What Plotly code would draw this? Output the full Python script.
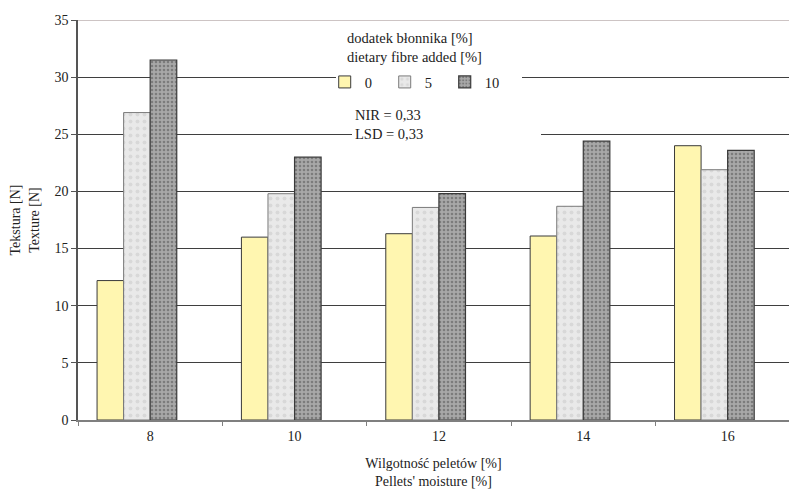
import plotly.graph_objects as go

categories = ["8", "10", "12", "14", "16"]
series_names = ["0", "5", "10"]
values_0 = [12.2, 16.0, 16.3, 16.1, 24.0]
values_5 = [26.9, 19.8, 18.6, 18.7, 21.9]
values_10 = [31.5, 23.0, 19.8, 24.4, 23.6]
y_ticks = [0, 5, 10, 15, 20, 25, 30, 35]

FONT = "Liberation Serif"
TXT = "#222222"
FS = 14
FS_NOTE = 14.5

bar_w = 0.184
styles = [
    dict(color="#fff6b0", line=dict(color="#3a3a3a", width=1)),
    dict(color="#e6e6e6", line=dict(color="#7a7a7a", width=1),
         pattern=dict(shape=".", bgcolor="#e9e9e9", fgcolor="#c8c8c8", size=7, solidity=0.25)),
    dict(color="#a0a0a0", line=dict(color="#3a3a3a", width=1.2),
         pattern=dict(shape=".", bgcolor="#a8a8a8", fgcolor="#505050", size=4, solidity=0.35)),
]
offsets = [-2 * bar_w, -bar_w, 0.0]

fig = go.Figure()
for name, vals, st, off in zip(series_names, [values_0, values_5, values_10], styles, offsets):
    fig.add_trace(go.Bar(
        x=categories, y=vals, name=name, width=bar_w, offset=off,
        marker=st,
    ))

fig.update_layout(
    width=789, height=489,
    margin=dict(l=78, r=0, t=20, b=69),
    paper_bgcolor="white", plot_bgcolor="white",
    barmode="overlay",
    font=dict(family=FONT, size=FS, color=TXT),
    showlegend=True,
    legend=dict(
        orientation="h", x=0.347, xanchor="left", y=0.845, yanchor="middle",
        bgcolor="rgba(0,0,0,0)", font=dict(family=FONT, size=FS_NOTE, color=TXT),
        entrywidth=15, itemwidth=30, traceorder="normal",
    ),
    xaxis=dict(
        type="category", range=[-0.5, 4.425],
        showgrid=False, showline=True, linecolor="#7f7f7f", linewidth=2,
        ticks="outside", tickson="boundaries", ticklen=4, tickcolor="#7f7f7f",
        ticklabelstandoff=2,
        title=dict(text="Wilgotność peletów [%]<br>Pellets' moisture [%]",
                   font=dict(family=FONT, size=FS, color=TXT), standoff=15),
        tickfont=dict(family=FONT, size=FS, color=TXT),
    ),
    yaxis=dict(
        range=[0, 35], tickvals=y_ticks, showgrid=True, gridcolor="#3f3f3f", gridwidth=1,
        zeroline=False, showline=True, linecolor="#555555", linewidth=1.5,
        ticks="outside", ticklen=5, tickcolor="#555555",
        title=dict(text="Tekstura [N]<br>Texture [N]",
                   font=dict(family=FONT, size=FS, color=TXT), standoff=12),
        tickfont=dict(family=FONT, size=FS, color=TXT),
    ),
    shapes=[
        dict(type="rect", xref="paper", yref="paper", x0=(336 - 78) / 711, x1=(522 - 78) / 711,
             y0=(420 - 95) / 400, y1=(420 - 25) / 400, fillcolor="white", line=dict(width=0), layer="above"),
        dict(type="rect", xref="paper", yref="paper", x0=(352 - 78) / 711, x1=(541 - 78) / 711,
             y0=(420 - 140) / 400, y1=(420 - 105) / 400, fillcolor="white", line=dict(width=0), layer="above"),
        dict(type="line", xref="paper", yref="y", x0=0, x1=1, y0=35, y1=35,
             line=dict(color="#9c8a8a", width=1), layer="above"),
    ],
    annotations=[
        dict(text="dodatek błonnika [%]<br>dietary fibre added [%]", xref="paper", yref="paper",
             x=(345 - 78) / 711, y=(420 - 28) / 400, xanchor="left", yanchor="top", align="left",
             showarrow=False, font=dict(family=FONT, size=FS_NOTE, color=TXT)),
        dict(text="NIR = 0,33<br>LSD = 0,33", xref="paper", yref="paper",
             x=(353 - 78) / 711, y=(420 - 105) / 400, xanchor="left", yanchor="top", align="left",
             showarrow=False, font=dict(family=FONT, size=FS_NOTE, color=TXT)),
    ],
)

fig.write_html(
    "out.html",
    config={"displayModeBar": False},
    post_script="document.body.style.margin='0';document.body.style.overflow='hidden';",
)
